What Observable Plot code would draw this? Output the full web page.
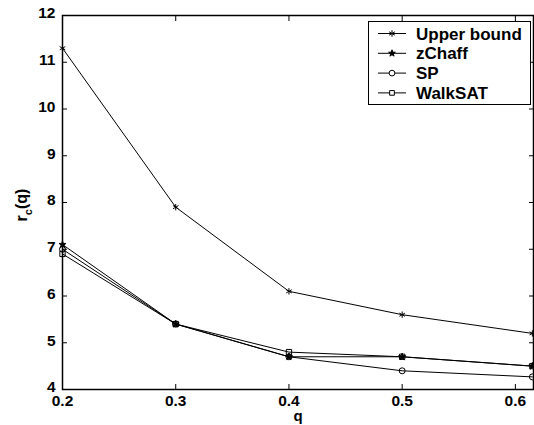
<!DOCTYPE html>
<html><head><meta charset="utf-8">
<script src="https://cdn.jsdelivr.net/npm/d3@7"></script>
<script src="https://cdn.jsdelivr.net/npm/@observablehq/plot@0.6"></script>
<style>
body{margin:0;background:#fff;}
svg{font-family:"Liberation Sans",Arial,sans-serif;}
</style>
</head><body><div id="chart"></div>
<script>
const q = [0.2, 0.3, 0.4, 0.5, 0.615];
const upperBound = [11.3, 7.9, 6.1, 5.6, 5.2];
const zChaff = [7.1, 5.4, 4.7, 4.7, 4.5];
const sp = [7.0, 5.4, 4.7, 4.4, 4.27];
const walkSAT = [6.9, 5.4, 4.8, 4.7, 4.5];
const seriesNames = ["Upper bound", "zChaff", "SP", "WalkSAT"];
const seriesSymbols = ["asterisk", "star", "circle", "square"];
const xTicks = [0.2, 0.3, 0.4, 0.5, 0.6];
const yTicks = [4, 5, 6, 7, 8, 9, 10, 11, 12];

const allSeries = [upperBound, zChaff, sp, walkSAT];
const data = [];
allSeries.forEach((vals, i) => vals.forEach((v, j) => data.push({q: q[j], r: v, name: seriesNames[i], sym: seriesSymbols[i]})));

const plot = Plot.plot({
  width: 534, height: 425,
  marginLeft: 62, marginTop: 15, marginBottom: 36, marginRight: 1,
  style: {fontFamily: "Liberation Sans, Arial, sans-serif", fontSize: "15px", fontWeight: "bold", background: "#fff"},
  x: {domain: [0.2, 0.616]},
  y: {domain: [4, 12]},
  symbol: {domain: seriesNames, range: seriesSymbols},
  marks: [
    Plot.axisX({ticks: xTicks, tickFormat: d3.format(".1f"), tickSize: -5, tickPadding: 10, label: null, fontWeight: "bold", fontSize: 15.5}),
    Plot.axisX({anchor: "top", ticks: xTicks, tickSize: -5, tickFormat: () => "", label: null}),
    Plot.axisY({ticks: yTicks, tickSize: -5, tickFormat: () => "", label: null}),
    Plot.axisY({ticks: yTicks, tickSize: 0, tickPadding: 7, dy: -2, label: null, fontWeight: "bold", fontSize: 15.5}),
    Plot.axisY({anchor: "right", ticks: yTicks, tickSize: -5, tickFormat: () => "", label: null}),
    Plot.frame({stroke: "#000", strokeWidth: 1.5}),
    Plot.line(data, {x: "q", y: "r", z: "name", stroke: "#000", strokeWidth: 1}),
    Plot.dot(data.filter(d => d.sym !== "star"), {x: "q", y: "r", symbol: "name", r: 3, stroke: "#000", strokeWidth: 1, fill: "none"}),
    Plot.dot(data.filter(d => d.sym === "star"), {x: "q", y: "r", symbol: "name", r: 2.2, stroke: "#000", strokeWidth: 1, fill: "#000"})
  ]
});
document.getElementById("chart").appendChild(plot);

const svg = d3.select(plot);
// axis labels
svg.append("text").attr("x", 298).attr("y", 421).attr("text-anchor", "middle")
  .attr("font-size", 15).attr("font-weight", "bold").text("q");
const yl = svg.append("text").attr("transform", "translate(27,205) rotate(-90)").attr("text-anchor", "middle")
  .attr("font-size", 16).attr("font-weight", "bold");
yl.append("tspan").text("r");
yl.append("tspan").attr("font-size", 11).attr("dy", 5).text("c");
yl.append("tspan").attr("dy", -5).text("(q)");

// legend
const lg = svg.append("g");
lg.append("rect").attr("x", 368.5).attr("y", 21.5).attr("width", 162).attr("height", 83)
  .attr("fill", "#fff").attr("stroke", "#000").attr("stroke-width", 1);
seriesNames.forEach((name, i) => {
  const y = 33.5 + i * 19.8;
  lg.append("line").attr("x1", 378).attr("x2", 406).attr("y1", y).attr("y2", y).attr("stroke", "#000");
  const symType = [d3.symbolAsterisk, d3.symbolStar, d3.symbolCircle, d3.symbolSquare][i];
  const size = [30, 14, 26, 22][i];
  lg.append("path").attr("transform", `translate(392,${y})`).attr("d", d3.symbol(symType, size)())
    .attr("fill", i === 1 ? "#000" : "#fff").attr("stroke", "#000").attr("stroke-width", 1);
  lg.append("text").attr("x", 416).attr("y", y + 6).attr("text-anchor", "start")
    .attr("font-size", 17).attr("font-weight", "bold").text(name);
});
</script>
</body></html>
